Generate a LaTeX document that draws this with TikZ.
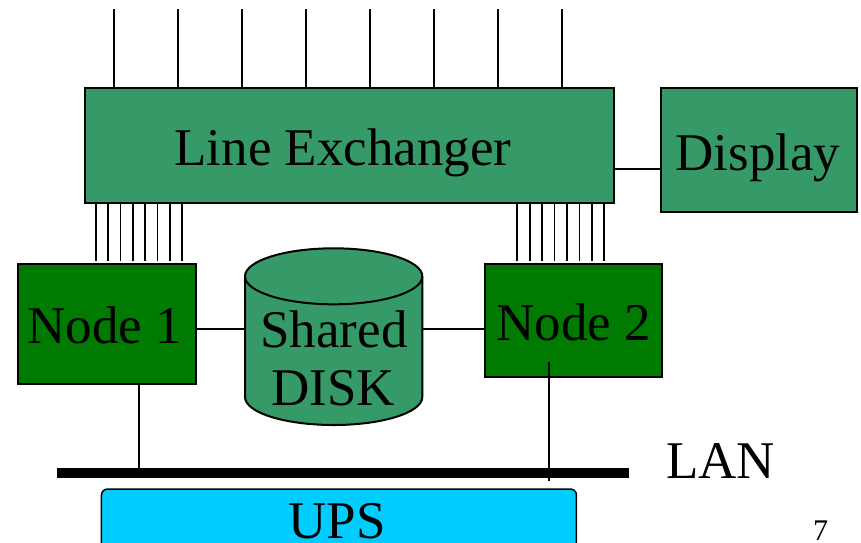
\documentclass[tikz,border=0pt]{standalone}
\usepackage{fontspec}
\setmainfont{Liberation Serif}
\definecolor{exgreen}{RGB}{54,154,104}
\definecolor{nodegreen}{RGB}{0,122,0}
\definecolor{upsblue}{RGB}{0,204,255}
\begin{document}
\begin{tikzpicture}[x=1pt,y=1pt,
  box/.style={draw=black, line width=2pt, inner sep=0pt},
  wire/.style={line width=1.8pt},
  txt/.style={font=\fontsize{53}{58}\selectfont, inner sep=0pt, anchor=base},
  smalltxt/.style={font=\fontsize{30}{36}\selectfont, inner sep=0pt, anchor=base}]
\clip (0,-542) rectangle (861,0);

% exchanger and display
\node[box, fill=exgreen, minimum width=528.7pt, minimum height=115pt] (exch) at (349.7,-145.8) {};
\node[txt] (exchT) at (343,-165.7) {Line Exchanger};
\node[box, fill=exgreen, minimum width=195.7pt, minimum height=124pt] (disp) at (758.9,-150.3) {};
\node[txt] (dispT) at (758,-170) {Display};

% cluster nodes
\node[box, fill=nodegreen, minimum width=178.3pt, minimum height=119.7pt] (n1) at (106.9,-323.9) {};
\node[txt] (n1T) at (104.7,-343) {Node 1};
\node[box, fill=nodegreen, minimum width=177pt, minimum height=113pt] (n2) at (573.5,-320.5) {};
\node[txt] (n2T) at (573.7,-340) {Node 2};

% shared disk (cylinder)
\node[minimum width=177.3pt, minimum height=176.7pt, inner sep=0pt] (disk) at (333.7,-336.7) {};
\fill[exgreen] (245,-276.3) -- (245,-397)
  arc[start angle=180, end angle=360, x radius=88.65pt, y radius=28pt]
  -- (422.3,-276.3)
  arc[start angle=0, end angle=180, x radius=88.65pt, y radius=28pt] -- cycle;
\draw[line width=2pt] (245,-276.3) -- (245,-397)
  arc[start angle=180, end angle=360, x radius=88.65pt, y radius=28pt]
  -- (422.3,-276.3)
  arc[start angle=0, end angle=180, x radius=88.65pt, y radius=28pt];
\draw[line width=2pt] (245,-276.3)
  arc[start angle=180, end angle=360, x radius=88.65pt, y radius=28pt];
\node[txt] (diskT1) at (334,-347) {Shared};
\node[txt] (diskT2) at (333.3,-405) {DISK};

% UPS
\node[draw=black, line width=1.5pt, rounded corners=6pt, fill=upsblue,
  minimum width=475pt, minimum height=80pt, anchor=north west, inner sep=0pt] (ups) at (100.7,-488.3) {};
\node[txt] (upsT) at (337,-538) {UPS};

% LAN bus
\coordinate (lanL) at (57.3,-473.3);
\coordinate (lanR) at (629.3,-473.3);
\draw[line width=10pt] (lanL) -- (lanR);
\node[txt, anchor=base west] (lanT) at (666,-478) {LAN};

% page number
\node[smalltxt] (pg) at (820.5,-540.5) {7};

% incoming lines
\foreach \i in {0,...,7} {
  \coordinate (top\i) at ({114.3+64*\i},-9);
  \draw[wire] (top\i) -- (top\i |- exch.north);
}
% line bundles to the nodes
\foreach \i in {0,...,7} {
  \coordinate (ba\i) at ({95.7+12.37*\i},-261);
  \draw[wire] (ba\i |- exch.south) -- (ba\i);
  \coordinate (bb\i) at ({517.3+12.43*\i},-261);
  \draw[wire] (bb\i |- exch.south) -- (bb\i);
}

% exchanger to display
\coordinate (dy) at (0,-169);
\draw[wire] (exch.east |- dy) -- (disp.west |- dy);

% nodes to disk
\coordinate (sy) at (0,-329);
\draw[wire] (n1.east |- sy) -- (disk.west |- sy);
\draw[wire] (disk.east |- sy) -- (n2.west |- sy);

% nodes to LAN
\coordinate (l1) at (139,-473.3);
\draw[wire] (l1 |- n1.south) -- (l1);
\coordinate (l2a) at (549.3,-361.7);
\coordinate (l2b) at (549.3,-480.7);
\draw[wire] (l2a) -- (l2b);
\end{tikzpicture}
\end{document}
